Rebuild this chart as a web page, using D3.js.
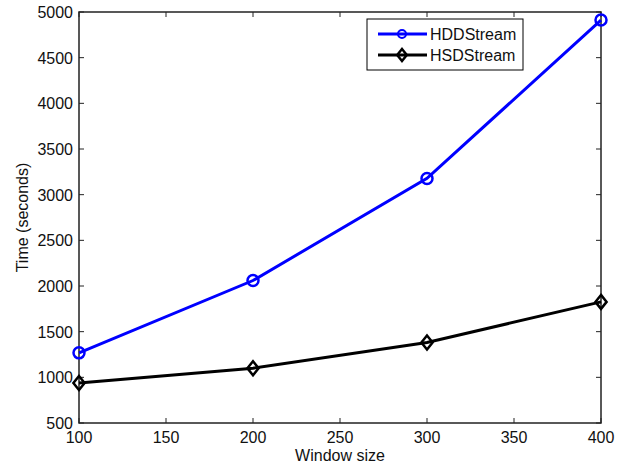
<!DOCTYPE html>
<html><head><meta charset="utf-8">
<script src="https://cdn.jsdelivr.net/npm/d3@7"></script>
<style>body{margin:0;background:#fff}svg{display:block}text{font-family:"Liberation Sans",Arial,sans-serif}</style>
</head><body>
<svg id="c" width="623" height="465"></svg>
<script>
const windowSizes = [100, 200, 300, 400];
const hddStream = [1268, 2060, 3178, 4912];
const hsdStream = [938, 1100, 1382, 1826];
const xTicks = [100, 150, 200, 250, 300, 350, 400];
const yTicks = [500, 1000, 1500, 2000, 2500, 3000, 3500, 4000, 4500, 5000];
const seriesNames = ["HDDStream", "HSDStream"];

const svg = d3.select("#c");
const L = 79, R = 601, T = 12, B = 423;
const x = d3.scaleLinear().domain([100, 400]).range([L, R]);
const y = d3.scaleLinear().domain([500, 5000]).range([B, T]);
const fs = 16;

const g = svg.append("g");
xTicks.forEach(v => {
  g.append("line").attr("x1", x(v)).attr("x2", x(v)).attr("y1", B).attr("y2", B - 5).attr("stroke", "#222");
  g.append("line").attr("x1", x(v)).attr("x2", x(v)).attr("y1", T).attr("y2", T + 5).attr("stroke", "#222");
  g.append("text").attr("x", x(v)).attr("y", 443).attr("text-anchor", "middle").attr("font-size", fs).attr("fill", "#111").text(v);
});
yTicks.forEach(v => {
  g.append("line").attr("x1", L).attr("x2", L + 5).attr("y1", y(v)).attr("y2", y(v)).attr("stroke", "#222");
  g.append("line").attr("x1", R).attr("x2", R - 5).attr("y1", y(v)).attr("y2", y(v)).attr("stroke", "#222");
  g.append("text").attr("x", 73).attr("y", y(v) + 6).attr("text-anchor", "end").attr("font-size", fs).attr("fill", "#111").text(v);
});
g.append("rect").attr("x", L).attr("y", T).attr("width", R - L).attr("height", B - T)
  .attr("fill", "none").attr("stroke", "#222").attr("stroke-width", 1.5);

svg.append("text").attr("x", x(250)).attr("y", 461).attr("text-anchor", "middle").attr("font-size", fs).attr("fill", "#111").text("Window size");
svg.append("text").attr("transform", `translate(28,${(T + B) / 2}) rotate(-90)`).attr("text-anchor", "middle").attr("font-size", fs).attr("fill", "#111").text("Time (seconds)");

const line = d3.line().x((d, i) => x(windowSizes[i])).y(d => y(d));
const diamond = (cx, cy, s) => `M${cx},${cy - s}L${cx + s * 0.8},${cy}L${cx},${cy + s}L${cx - s * 0.8},${cy}Z`;

svg.append("path").datum(hsdStream).attr("d", line).attr("fill", "none").attr("stroke", "#000").attr("stroke-width", 3);
svg.selectAll(".d").data(hsdStream).enter().append("path")
  .attr("d", (d, i) => diamond(x(windowSizes[i]), y(d), 7))
  .attr("fill", "none").attr("stroke", "#000").attr("stroke-width", 2.5);

svg.append("path").datum(hddStream).attr("d", line).attr("fill", "none").attr("stroke", "#0000ff").attr("stroke-width", 3);
svg.selectAll(".c").data(hddStream).enter().append("circle")
  .attr("cx", (d, i) => x(windowSizes[i])).attr("cy", d => y(d)).attr("r", 5.5)
  .attr("fill", "none").attr("stroke", "#0000ff").attr("stroke-width", 2.5);

const lg = svg.append("g");
lg.append("rect").attr("x", 367).attr("y", 19).attr("width", 156).attr("height", 51).attr("fill", "#fff").attr("stroke", "#000").attr("stroke-width", 1);
const rows = [34, 55];
const cols = ["#0000ff", "#000"];
rows.forEach((ry, i) => {
  lg.append("line").attr("x1", 378).attr("x2", 427).attr("y1", ry).attr("y2", ry).attr("stroke", cols[i]).attr("stroke-width", 3);
  if (i === 0) lg.append("circle").attr("cx", 402).attr("cy", ry).attr("r", 4).attr("fill", "none").attr("stroke", cols[i]).attr("stroke-width", 2);
  else lg.append("path").attr("d", diamond(402, ry, 6)).attr("fill", "none").attr("stroke", cols[i]).attr("stroke-width", 2.5);
  lg.append("text").attr("x", 430).attr("y", ry + 6).attr("font-size", fs).attr("fill", "#111").text(seriesNames[i]);
});
</script>
</body></html>
